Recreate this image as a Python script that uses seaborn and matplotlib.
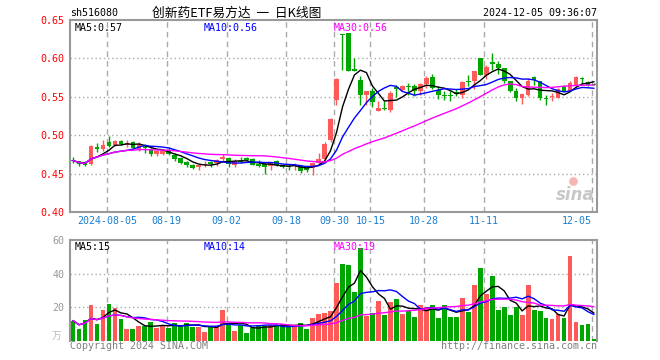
import numpy as np
import pandas as pd
import matplotlib
matplotlib.use("Agg")
import matplotlib.pyplot as plt
import seaborn as sns

# daily candles, 2024-07-26 .. 2024-12-05 (index = trading day)
open_ = [0.468, 0.466, 0.465, 0.463, 0.485, 0.482, 0.491, 0.487, 0.493, 0.487,
         0.491, 0.482, 0.487, 0.482, 0.475, 0.476, 0.481, 0.474, 0.470, 0.465,
         0.461, 0.458, 0.4615, 0.4645, 0.464, 0.4685, 0.4706, 0.4614, 0.4667, 0.470,
         0.469, 0.463, 0.4627, 0.4605, 0.466, 0.4614, 0.4605, 0.4596, 0.4596, 0.4583,
         0.4575, 0.464, 0.4693, 0.4934, 0.546, 0.632, 0.6325, 0.5864, 0.5724, 0.5518,
         0.557, 0.532, 0.535, 0.533, 0.5623, 0.559, 0.5645, 0.5645, 0.557, 0.5667,
         0.576, 0.5592, 0.5526, 0.5526, 0.5557, 0.5518, 0.5711, 0.5702, 0.600, 0.578,
         0.5947, 0.593, 0.587, 0.570, 0.558, 0.549, 0.5518, 0.5754, 0.571, 0.5482,
         0.5496, 0.549, 0.5623, 0.558, 0.5658, 0.5746, 0.5693, 0.567]
high = [0.471, 0.467, 0.466, 0.487, 0.490, 0.494, 0.499, 0.494, 0.494, 0.494,
        0.492, 0.491, 0.488, 0.483, 0.481, 0.482, 0.485, 0.4768, 0.471, 0.466,
        0.463, 0.463, 0.466, 0.466, 0.469, 0.476, 0.4715, 0.469, 0.472, 0.472,
        0.470, 0.468, 0.4636, 0.465, 0.468, 0.462, 0.463, 0.4632, 0.461, 0.4614,
        0.465, 0.4768, 0.491, 0.523, 0.5746, 0.632, 0.6325, 0.601, 0.5768, 0.558,
        0.561, 0.544, 0.545, 0.557, 0.566, 0.566, 0.568, 0.5667, 0.568, 0.577,
        0.580, 0.5636, 0.557, 0.557, 0.5605, 0.570, 0.578, 0.584, 0.601, 0.591,
        0.6075, 0.597, 0.588, 0.571, 0.561, 0.5535, 0.574, 0.5768, 0.571, 0.5526,
        0.5548, 0.561, 0.566, 0.570, 0.577, 0.5754, 0.570, 0.568]
low = [0.464, 0.460, 0.460, 0.461, 0.478, 0.480, 0.485, 0.486, 0.487, 0.484,
       0.483, 0.480, 0.477, 0.473, 0.473, 0.474, 0.474, 0.4662, 0.463, 0.459,
       0.456, 0.455, 0.458, 0.458, 0.4605, 0.467, 0.459, 0.459, 0.464, 0.4665,
       0.461, 0.459, 0.450, 0.455, 0.4605, 0.457, 0.455, 0.455, 0.451, 0.452,
       0.448, 0.463, 0.468, 0.491, 0.539, 0.5855, 0.583, 0.583, 0.5395, 0.5395,
       0.537, 0.531, 0.533, 0.530, 0.550, 0.557, 0.5526, 0.5504, 0.552, 0.5614,
       0.560, 0.5465, 0.546, 0.545, 0.5504, 0.549, 0.5636, 0.5605, 0.578, 0.573,
       0.5855, 0.580, 0.568, 0.556, 0.544, 0.5403, 0.5515, 0.5658, 0.546, 0.5395,
       0.5447, 0.548, 0.556, 0.557, 0.565, 0.567, 0.564, 0.565]
close = [0.467, 0.462, 0.461, 0.486, 0.482, 0.487, 0.486, 0.493, 0.488, 0.490,
         0.483, 0.489, 0.483, 0.475, 0.479, 0.479, 0.475, 0.469, 0.464, 0.461,
         0.457, 0.461, 0.463, 0.463, 0.468, 0.4715, 0.4627, 0.466, 0.465, 0.468,
         0.4614, 0.4605, 0.458, 0.4636, 0.461, 0.458, 0.458, 0.4614, 0.454, 0.4553,
         0.464, 0.4693, 0.489, 0.521, 0.5737, 0.6305, 0.584, 0.5833, 0.5518, 0.558,
         0.543, 0.536, 0.5338, 0.555, 0.5605, 0.5636, 0.5627, 0.557, 0.5667, 0.5746,
         0.5614, 0.5526, 0.551, 0.551, 0.554, 0.5693, 0.5693, 0.5833, 0.579, 0.5886,
         0.593, 0.587, 0.5705, 0.557, 0.549, 0.5535, 0.5702, 0.5724, 0.548, 0.5465,
         0.5513, 0.560, 0.557, 0.568, 0.5754, 0.573, 0.5658, 0.566]
# volume in 万手
volume = [12, 7, 12.4, 21.4, 10, 18.4, 22, 19.6, 12.8, 7,
          7, 9, 8.8, 11.2, 7.8, 8.8, 7.8, 10.4, 9.2, 10.8,
          8.4, 8.4, 5.4, 8.8, 8.4, 18.4, 10.4, 5.8, 9.4, 4.6,
          8.4, 9.4, 9, 9.4, 8.6, 9.8, 9, 8.8, 10.8, 7.2,
          13.8, 16.2, 16.8, 17.4, 34.4, 45.6, 45.2, 28.8, 55, 15,
          16.8, 23.8, 15.4, 22.8, 25, 16, 17.6, 14.2, 21.4, 20.2,
          21.4, 13.6, 21.4, 14.2, 14.2, 25.5, 17, 33, 43.6, 28,
          38.8, 18.4, 19.8, 15.4, 19.8, 15.4, 33, 18, 17.4, 13.6,
          13, 16, 13.6, 50.4, 11.2, 9.4, 10, 1]

tick_idx = [6, 16, 26, 36, 44, 50, 59, 69, 87]
tick_labels = ["2024-08-05", "08-19", "09-02", "09-18", "09-30", "10-15", "10-28", "11-11", "12-05"]

RED = "#FF5A5A"
GREEN = "#00A600"
MA_COLORS = {5: "black", 10: "#0000FF", 30: "#FF00FF"}
GRID = "#AAAAAA"
MONO = "DejaVu Sans Mono"

sns.set_style("white")
plt.rcParams["font.family"] = MONO

df = pd.DataFrame({"open": open_, "high": high, "low": low, "close": close, "vol": volume})
df["x"] = np.arange(len(df))
df["up"] = df["close"] >= df["open"]
for n in MA_COLORS:
    df[f"ma{n}"] = df["close"].rolling(n, min_periods=1).mean()
    df[f"vma{n}"] = df["vol"].rolling(n, min_periods=1).mean()
colors = np.where(df["up"], RED, GREEN)

fig = plt.figure(figsize=(6.6, 3.6), dpi=100)
ax = fig.add_axes([70 / 660, 148 / 360, 527 / 660, 192 / 360])
axv = fig.add_axes([70 / 660, 19.3 / 360, 527 / 660, 100.7 / 360])

# candles
body = (df["close"] - df["open"]).abs().clip(lower=0.0007)
bottom = df[["open", "close"]].min(axis=1)
ax.vlines(df["x"], df["low"], df["high"], colors=colors, lw=1, zorder=3)
ax.bar(df["x"], body, bottom=bottom, width=0.78, color=colors, lw=0, zorder=4)
for n, c in MA_COLORS.items():
    sns.lineplot(x="x", y=f"ma{n}", data=df, color=c, lw=1, ax=ax, zorder=5)

axv.bar(df["x"], df["vol"], width=0.8, color=colors, lw=0, zorder=3)
for n, c in MA_COLORS.items():
    sns.lineplot(x="x", y=f"vma{n}", data=df, color=c, lw=1, ax=axv, zorder=5)

vpos = [t - 0.35 for t in tick_idx]
for a in (ax, axv):
    a.set_xlim(-0.5, len(df) - 0.5)
    a.set_xlabel("")
    a.set_ylabel("")
    for v in vpos:
        a.axvline(v, color=GRID, lw=1, ls=(0, (4, 3)), zorder=1)
    for s in ("left", "top", "right", "bottom"):
        a.spines[s].set_color("#999999")
        a.spines[s].set_linewidth(1.5)
    a.tick_params(length=0)

ax.set_ylim(0.40, 0.65)
ax.set_yticks([0.40, 0.45, 0.50, 0.55, 0.60, 0.65])
ax.set_yticklabels([f"{v:.2f}" for v in ax.get_yticks()], color="#FF0000", fontsize=7.2)
for v in [0.45, 0.50, 0.55, 0.60]:
    ax.axhline(v, color=GRID, lw=1, ls=(0, (1, 2)), zorder=1)
ax.set_xticks(vpos)
ax.set_xticklabels(tick_labels, color="#1A7FD0", fontsize=7.2)
ax.get_xticklabels()[-1].set_ha("right")
ax.tick_params(axis="x", pad=3)
ax.tick_params(axis="y", pad=4)

axv.set_ylim(0, 60)
axv.set_yticks([20, 40, 60])
axv.set_yticklabels(["20", "40", "60"], color="#999999", fontsize=7.2)
axv.tick_params(axis="y", pad=4)
axv.set_xticks([])
axv.spines["bottom"].set_visible(False)
for v in [20, 40]:
    axv.axhline(v, color=GRID, lw=1, ls=(0, (1, 2)), zorder=1)

# labels
for a, labels in ((ax, ["MA5:0.57", "MA10:0.56", "MA30:0.56"]), (axv, ["MA5:15", "MA10:14", "MA30:19"])):
    for xf, lab, c in zip([0.008, 0.254, 0.501], labels, MA_COLORS.values()):
        a.text(xf, 0.985, lab, transform=a.transAxes, ha="left", va="top",
               color=c, fontsize=7.2, zorder=6)

fig.text(70 / 660, 1 - 13 / 360, "sh516080", ha="left", va="center", fontsize=7.2, color="black")
fig.text(237 / 660, 1 - 13 / 360, "创新药ETF易方达  一  日K线图", ha="center", va="center",
         fontsize=9.2, color="black", family=["Noto Sans CJK SC", "DejaVu Sans"])
fig.text(597 / 660, 1 - 13 / 360, "2024-12-05 09:36:07", ha="right", va="center",
         fontsize=7.2, color="black")
fig.text(57 / 660, 1 - 336 / 360, "万", ha="center", va="center", fontsize=7,
         color="#BBBBBB", family=["Noto Sans CJK SC", "DejaVu Sans"])
fig.text(70 / 660, 1 - 346 / 360, "Copyright 2024 SINA.COM", ha="left", va="center",
         fontsize=7.2, color="#808080")
fig.text(597 / 660, 1 - 346 / 360, "http://finance.sina.com.cn", ha="right", va="center",
         fontsize=7.2, color="#808080")
# sina watermark
ax.scatter([0.955], [0.16], s=40, color="#F5B5B5", transform=ax.transAxes, zorder=2, lw=0)
ax.text(0.995, 0.04, "sina", transform=ax.transAxes, ha="right", va="bottom",
        fontsize=12, fontstyle="italic", fontweight="bold", color="#C8C8C8",
        family="DejaVu Sans", zorder=2)

fig.savefig("out.png", dpi=100)
